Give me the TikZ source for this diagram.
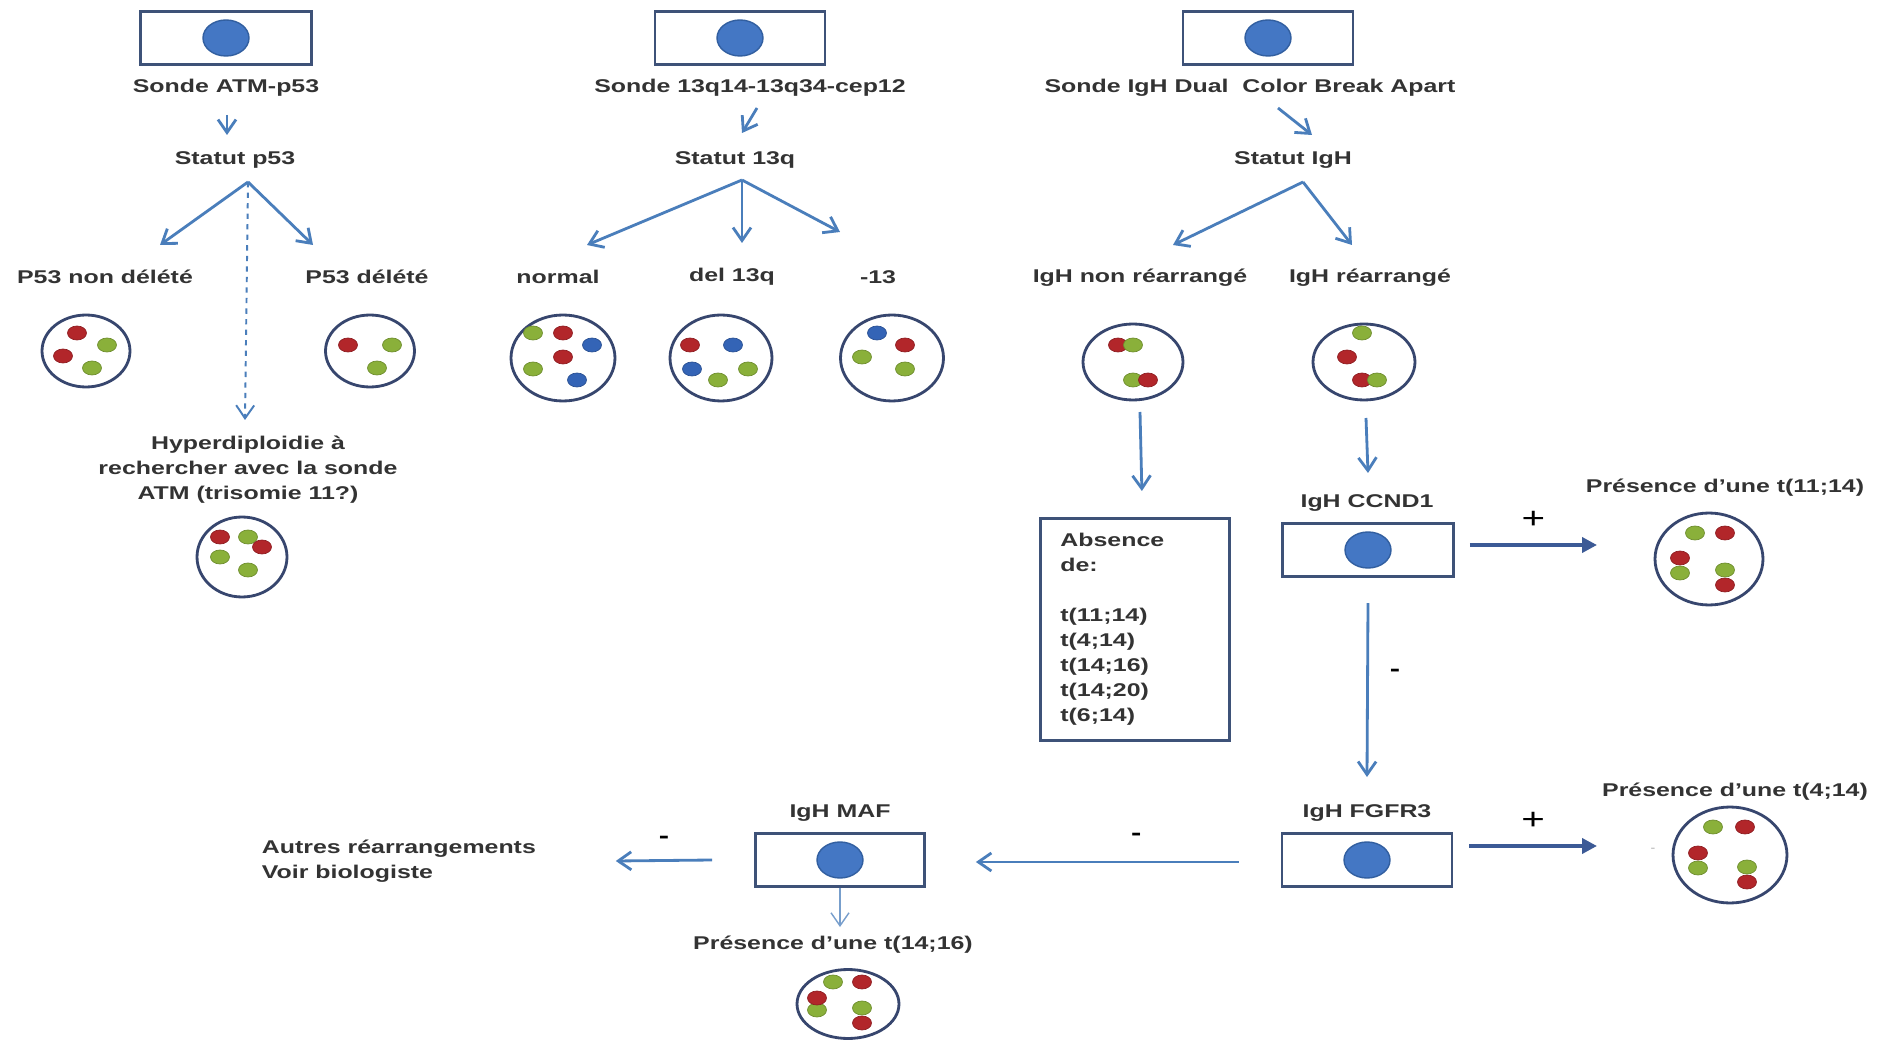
\documentclass[tikz,border=0pt]{standalone}
\usepackage{fontspec}
\setmainfont{Liberation Sans}[FakeStretch=1.35]
\usetikzlibrary{arrows.meta,positioning,shapes.geometric,calc}

\definecolor{flowblue}{RGB}{74,126,187}
\definecolor{darkflow}{RGB}{60,90,150}
\definecolor{boxline}{RGB}{62,82,120}
\definecolor{nucfill}{RGB}{68,119,196}
\definecolor{nucline}{RGB}{50,95,160}
\definecolor{cellline}{RGB}{55,70,110}
\definecolor{sigred}{RGB}{178,38,42}
\definecolor{siggreen}{RGB}{138,176,58}
\definecolor{sigblue}{RGB}{52,100,182}

\begin{document}
\begin{tikzpicture}[
x=0.02cm, y=-0.02cm,
font=\fontsize{10.5}{14.2}\selectfont\bfseries,
txt/.style={text=black!80, inner sep=2pt},
probe/.style={draw=boxline, line width=1.6pt, minimum width=3.42cm, minimum height=1.07cm,
  path picture={\filldraw[fill=nucfill, draw=nucline, line width=0.8pt] (path picture bounding box.center) ellipse (0.46cm and 0.36cm);}},
cell/.style={ellipse, draw=cellline, line width=1.6pt, inner sep=0pt},
arrow/.style={-{Straight Barb[length=2.6mm,width=3.6mm]}, draw=flowblue, line width=1.6pt},
thin arrow/.style={arrow, draw=flowblue!75, line width=0.8pt},
hint/.style={arrow, line width=1.1pt, dashed},
result/.style={-{Triangle[length=3mm,width=3mm]}, draw=darkflow, line width=2.2pt},
sign/.style={font=\fontsize{13}{13}\selectfont\bfseries, text=black},
plus/.style={font=\fontsize{17}{17}\selectfont, text=black},
rspot/.style={fill=sigred, draw=sigred!80!black, line width=0.4pt},
gspot/.style={fill=siggreen, draw=siggreen!80!black, line width=0.4pt},
bspot/.style={fill=sigblue, draw=sigblue!80!black, line width=0.4pt}
]
\fill[white] (0,0) rectangle (1901,1040);
\useasboundingbox (0,0) rectangle (1901,1040);

% ATM / p53 probe
\node[probe] (atm) at (226,38) {};
\node[txt] (atmname) at (226,88) {Sonde ATM-p53};
\node[txt] (p53) at (235,160) {Statut p53};
\coordinate (p53fork) at ($(p53)+(13,22)$);
\node[txt] (p53keep) at (105,277) {P53 non délété};
\node[txt] (p53del) at (367,277) {P53 délété};
\node[txt, align=center] (hyper) at (248,470) {Hyperdiploidie à\\rechercher avec la sonde\\ATM (trisomie 11?)};
\node[cell, minimum width=1.76cm, minimum height=1.44cm] (cellkeep) at (86,351) {};
\node[cell, minimum width=1.78cm, minimum height=1.44cm] (celldel) at (370,351) {};
\node[cell, minimum width=1.8cm, minimum height=1.6cm] (cellhyp) at (242,557) {};
\foreach \dx/\dy/\s in {-9/-18/rspot, -23/5/rspot, 21/-6/gspot, 6/17/gspot}
  \path[\s] ($(cellkeep)+(\dx,\dy)$) ellipse (0.19cm and 0.14cm);
\foreach \dx/\dy/\s in {-22/-6/rspot, 22/-6/gspot, 7/17/gspot}
  \path[\s] ($(celldel)+(\dx,\dy)$) ellipse (0.19cm and 0.14cm);
\foreach \dx/\dy/\s in {-22/-20/rspot, 6/-20/gspot, 20/-10/rspot, -22/0/gspot, 6/13/gspot}
  \path[\s] ($(cellhyp)+(\dx,\dy)$) ellipse (0.19cm and 0.14cm);
\draw[arrow] ($(atmname)+(1,27)$) -- ($(p53)+(-8,-25)$);
\draw[arrow] (p53fork) -- ($(p53keep)+(55,-32)$);
\draw[arrow] (p53fork) -- ($(p53del)+(-54,-32)$);
\draw[hint] (p53fork) -- ($(hyper)+(-3,-50)$);

% 13q probe
\node[probe, minimum width=3.4cm] (chr13) at (740,38) {};
\node[txt] (chr13name) at (750,88) {Sonde 13q14-13q34-cep12};
\node[txt] (q13) at (735,160) {Statut 13q};
\coordinate (q13fork) at ($(q13)+(7,20)$);
\node[txt] (qnorm) at (558,277) {normal};
\node[txt] (qdel) at (732,277) {del 13q};
\node[txt] (qmono) at (878,277) {-13};
\node[cell, minimum width=2.08cm, minimum height=1.72cm] (cellnorm) at (563,358) {};
\node[cell, minimum width=2.04cm, minimum height=1.72cm] (cellqdel) at (721,358) {};
\node[cell, minimum width=2.06cm, minimum height=1.72cm] (cellmono) at (892,358) {};
\foreach \dx/\dy/\s in {-30/-25/gspot, 0/-25/rspot, 29/-13/bspot, 0/-1/rspot, -30/11/gspot, 14/22/bspot}
  \path[\s] ($(cellnorm)+(\dx,\dy)$) ellipse (0.19cm and 0.14cm);
\foreach \dx/\dy/\s in {-31/-13/rspot, 12/-13/bspot, -29/11/bspot, 27/11/gspot, -3/22/gspot}
  \path[\s] ($(cellqdel)+(\dx,\dy)$) ellipse (0.19cm and 0.14cm);
\foreach \dx/\dy/\s in {-15/-25/bspot, 13/-13/rspot, -30/-1/gspot, 13/11/gspot}
  \path[\s] ($(cellmono)+(\dx,\dy)$) ellipse (0.19cm and 0.14cm);
\draw[arrow] ($(chr13name)+(7,20)$) -- ($(q13)+(7,-27)$);
\draw[arrow] (q13fork) -- ($(qnorm)+(29,-32)$);
\draw[arrow] (q13fork) -- ($(qdel)+(10,-34)$);
\draw[arrow] (q13fork) -- ($(qmono)+(-38,-45)$);

% IgH break apart probe
\node[probe, minimum width=3.4cm] (igh) at (1268,38) {};
\node[txt] (ighname) at (1250,88) {Sonde IgH Dual\ \ Color Break Apart};
\node[txt] (ighstat) at (1293,160) {Statut IgH};
\coordinate (ighfork) at ($(ighstat)+(10,22)$);
\node[txt] (ighnr) at (1140,278) {IgH non réarrangé};
\node[txt] (ighr) at (1370,278) {IgH réarrangé};
\node[cell, minimum width=2cm, minimum height=1.52cm] (cellnr) at (1133,362) {};
\node[cell, minimum width=2.04cm, minimum height=1.52cm] (cellr) at (1364,362) {};
\foreach \dx/\dy/\s in {-15/-17/rspot, 0/-17/gspot, 0/18/gspot, 15/18/rspot}
  \path[\s] ($(cellnr)+(\dx,\dy)$) ellipse (0.19cm and 0.14cm);
\foreach \dx/\dy/\s in {-2/-29/gspot, -17/-5/rspot, -2/18/rspot, 13/18/gspot}
  \path[\s] ($(cellr)+(\dx,\dy)$) ellipse (0.19cm and 0.14cm);
\draw[arrow] ($(ighname)+(28,20)$) -- ($(ighstat)+(19,-25)$);
\draw[arrow] (ighfork) -- ($(ighnr)+(33,-33)$);
\draw[arrow] (ighfork) -- ($(ighr)+(-18,-33)$);

% no rearrangement
\node[txt, draw=boxline, line width=1.6pt, anchor=north west, text width=2.98cm, inner xsep=0.4cm,
  inner ysep=0.3cm, minimum height=4.32cm, align=left] (absent) at (1039,517)
  {Absence\\de:\\[14.2pt]t(11;14)\\t(4;14)\\t(14;16)\\t(14;20)\\t(6;14)};
\draw[arrow] ($(cellnr)+(7,50)$) -- ($(absent.north)+(7,-26)$);

% partner probes
\node[txt] (ccndname) at (1367,503) {IgH CCND1};
\node[probe] (ccnd) at (1368,550) {};
\node[txt] (fgfrname) at (1367,813) {IgH FGFR3};
\node[probe, minimum width=3.4cm] (fgfr) at (1367,860) {};
\node[txt] (mafname) at (840,813) {IgH MAF};
\node[probe, minimum width=3.38cm] (maf) at (840,860) {};
\node[txt, anchor=west, align=left] (other) at (258,861) {Autres réarrangements\\Voir biologiste};

% translocation results
\node[txt] (p1114) at (1725,488) {Présence d'une t(11;14)};
\node[txt] (p414) at (1735,792) {Présence d'une t(4;14)};
\node[txt] (p1416) at (833,945) {Présence d'une t(14;16)};
\node[cell, minimum width=2.16cm, minimum height=1.84cm] (cell1114) at (1709,559) {};
\node[cell, minimum width=2.28cm, minimum height=1.92cm] (cell414) at (1730,855) {};
\node[cell, minimum width=2.04cm, minimum height=1.38cm] (cell1416) at (848,1004) {};
\node[text=black!35, font=\fontsize{6}{6}\selectfont] (stray) at (1653,850) {-};
\foreach \dx/\dy/\s in {-14/-26/gspot, 16/-26/rspot, -29/14/gspot, -29/-1/rspot, 16/26/rspot, 16/11/gspot}
  \path[\s] ($(cell1114)+(\dx,\dy)$) ellipse (0.19cm and 0.14cm);
\foreach \dx/\dy/\s in {-17/-28/gspot, 15/-28/rspot, -32/13/gspot, -32/-2/rspot, 17/27/rspot, 17/12/gspot}
  \path[\s] ($(cell414)+(\dx,\dy)$) ellipse (0.19cm and 0.14cm);
\foreach \dx/\dy/\s in {-15/-22/gspot, 14/-22/rspot, -31/6/gspot, -31/-6/rspot, 14/19/rspot, 14/4/gspot}
  \path[\s] ($(cell1416)+(\dx,\dy)$) ellipse (0.19cm and 0.14cm);

\draw[arrow] ($(cellr)+(2,56)$) -- ($(ccndname)+(1,-30)$);
\draw[result] ($(ccnd.east)+(15,-5)$) -- ($(cell1114)+(-112,-14)$) node[midway, above=0.18cm, plus] {+};
\draw[arrow] ($(ccnd.south)+(0,25)$) -- ($(fgfrname)+(0,-36)$) node[pos=0.4, right=0.3cm, sign] {-};
\draw[result] ($(fgfr.east)+(16,-14)$) -- ($(cell414)+(-133,-9)$) node[midway, above=0.18cm, plus] {+};
\draw[arrow] ($(fgfr.west)+(-42,2)$) -- ($(maf.east)+(50,2)$) node[pos=0.39, above=0.29cm, sign] {-};
\draw[arrow] ($(maf.west)+(-42,0)$) -- ($(other.east)+(76,0)$) node[midway, above=0.19cm, sign] {-};
\draw[thin arrow] (maf.south) -- ($(p1416)+(7,-18)$);
\end{tikzpicture}
\end{document}
